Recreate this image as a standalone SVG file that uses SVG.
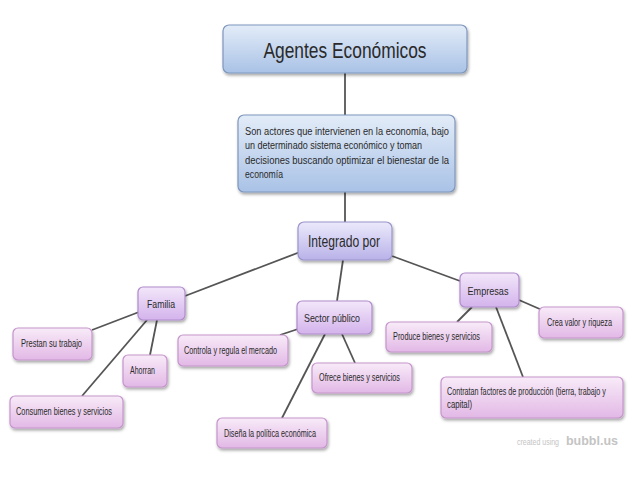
<svg xmlns="http://www.w3.org/2000/svg" width="638" height="479" viewBox="0 0 638 479">
<defs>
<linearGradient id="gBlue" x1="0" y1="0" x2="0" y2="1">
<stop offset="0" stop-color="#e3ecf8"/>
<stop offset="1" stop-color="#a9c2e6"/>
</linearGradient>
<linearGradient id="gLav" x1="0" y1="0" x2="0" y2="1">
<stop offset="0" stop-color="#ebe9fb"/>
<stop offset="1" stop-color="#b9b2e8"/>
</linearGradient>
<linearGradient id="gMid" x1="0" y1="0" x2="0" y2="1">
<stop offset="0" stop-color="#f3e7fa"/>
<stop offset="1" stop-color="#d3b3ec"/>
</linearGradient>
<linearGradient id="gLeaf" x1="0" y1="0" x2="0" y2="1">
<stop offset="0" stop-color="#f8ebf8"/>
<stop offset="1" stop-color="#e2b8e6"/>
</linearGradient>
<filter id="sh" x="-10%" y="-20%" width="130%" height="160%">
<feDropShadow dx="1" dy="2" stdDeviation="1.5" flood-color="#000" flood-opacity="0.35"/>
</filter>
</defs>
<style>
.blue{fill:url(#gBlue);stroke:#7f97bd;stroke-width:1.2;filter:url(#sh)}
.lav{fill:url(#gLav);stroke:#9a94cc;stroke-width:1.2;filter:url(#sh)}
.mid{fill:url(#gMid);stroke:#b08ccc;stroke-width:1.2;filter:url(#sh)}
.leaf{fill:url(#gLeaf);stroke:#c595cc;stroke-width:1.2;filter:url(#sh)}
text{font-family:"Liberation Sans",Arial,sans-serif;fill:#2a2a2a}
.t10{font-size:10px}
.t11{font-size:11px}
.c{text-anchor:middle}
.conn line{stroke:#555;stroke-width:1.8}
</style>
<rect width="638" height="479" fill="#fff"/>
<g id="connectors" class="conn">
<line x1="345" y1="73" x2="345" y2="115"/>
<line x1="345" y1="192" x2="345" y2="222"/>
<line x1="300" y1="252" x2="185" y2="296"/>
<line x1="343" y1="260" x2="337" y2="301"/>
<line x1="392" y1="256" x2="460" y2="281"/>
<line x1="139" y1="312" x2="92" y2="330"/>
<line x1="157" y1="320" x2="150" y2="355"/>
<line x1="147" y1="320" x2="82" y2="396"/>
<line x1="298" y1="329" x2="280" y2="335"/>
<line x1="325" y1="334" x2="282" y2="418"/>
<line x1="342" y1="334" x2="355" y2="363"/>
<line x1="472" y1="307" x2="457" y2="322"/>
<line x1="496" y1="307" x2="523" y2="377"/>
<line x1="519" y1="300" x2="542" y2="310"/>
</g>
<g id="agentes">
<rect class="blue" x="223" y="25" width="244" height="48" rx="6"/>
<text x="345" y="58" class="c" font-size="22" textLength="163" lengthAdjust="spacingAndGlyphs">Agentes Económicos</text>
</g>
<g id="definicion">
<rect class="blue" x="238" y="115" width="217" height="77" rx="6"/>
<text x="245" y="135" class="t10" textLength="204" lengthAdjust="spacingAndGlyphs">Son actores que intervienen en la economía, bajo</text>
<text x="245" y="149" class="t10" textLength="177" lengthAdjust="spacingAndGlyphs">un determinado sistema económico y toman</text>
<text x="245" y="164" class="t10" textLength="204" lengthAdjust="spacingAndGlyphs">decisiones buscando optimizar el bienestar de la</text>
<text x="245" y="178" class="t10" textLength="38" lengthAdjust="spacingAndGlyphs">economía</text>
</g>
<g id="integrado">
<rect class="lav" x="298" y="222" width="94" height="38" rx="6"/>
<text x="344" y="247" class="c" font-size="16" textLength="72" lengthAdjust="spacingAndGlyphs">Integrado por</text>
</g>
<g id="familia">
<rect class="mid" x="138" y="287" width="47" height="33" rx="5"/>
<text x="161" y="308" class="c t11" textLength="28" lengthAdjust="spacingAndGlyphs">Familia</text>
</g>
<g id="sector">
<rect class="mid" x="297" y="301" width="75" height="33" rx="5"/>
<text x="332" y="322" class="c t11" textLength="56" lengthAdjust="spacingAndGlyphs">Sector público</text>
</g>
<g id="empresas">
<rect class="mid" x="460" y="273" width="59" height="34" rx="5"/>
<text x="488" y="295" class="c t11" textLength="41" lengthAdjust="spacingAndGlyphs">Empresas</text>
</g>
<g id="prestan">
<rect class="leaf" x="13" y="328" width="79" height="32" rx="5"/>
<text x="51.5" y="347" class="c t10" textLength="61" lengthAdjust="spacingAndGlyphs">Prestan su trabajo</text>
</g>
<g id="ahorran">
<rect class="leaf" x="123" y="355" width="44" height="32" rx="5"/>
<text x="142.5" y="374" class="c t10" textLength="25" lengthAdjust="spacingAndGlyphs">Ahorran</text>
</g>
<g id="consumen">
<rect class="leaf" x="10" y="396" width="113" height="32" rx="5"/>
<text x="64" y="415" class="c t10" textLength="96" lengthAdjust="spacingAndGlyphs">Consumen bienes y servicios</text>
</g>
<g id="controla">
<rect class="leaf" x="178" y="335" width="110" height="31" rx="5"/>
<text x="230.5" y="354" class="c t10" textLength="93" lengthAdjust="spacingAndGlyphs">Controla y regula el mercado</text>
</g>
<g id="disena">
<rect class="leaf" x="217" y="418" width="110" height="30" rx="5"/>
<text x="270" y="437" class="c t10" textLength="92" lengthAdjust="spacingAndGlyphs">Diseña la política económica</text>
</g>
<g id="ofrece">
<rect class="leaf" x="312" y="363" width="100" height="30" rx="5"/>
<text x="359.5" y="381" class="c t10" textLength="81" lengthAdjust="spacingAndGlyphs">Ofrece bienes y servicios</text>
</g>
<g id="produce">
<rect class="leaf" x="386" y="322" width="106" height="30" rx="5"/>
<text x="436.5" y="340" class="c t10" textLength="87" lengthAdjust="spacingAndGlyphs">Produce bienes y servicios</text>
</g>
<g id="crea">
<rect class="leaf" x="539" y="307" width="84" height="31" rx="5"/>
<text x="579.5" y="326" class="c t10" textLength="65" lengthAdjust="spacingAndGlyphs">Crea valor y riqueza</text>
</g>
<g id="contratan">
<rect class="leaf" x="441" y="377" width="182" height="41" rx="5"/>
<text transform="translate(447 395) scale(0.7 1)" x="0" y="0" class="t10" textLength="227" lengthAdjust="spacingAndGlyphs">Contratan factores de producción (tierra, trabajo y</text>
<text x="447" y="408" class="t10" textLength="25" lengthAdjust="spacingAndGlyphs">capital)</text>
</g>
<g id="watermark">
<text x="517" y="445" font-size="9" style="fill:#c4c4c4" textLength="42" lengthAdjust="spacingAndGlyphs">created using</text>
<text x="566" y="445" font-size="12" font-weight="bold" style="fill:#c4c4c4" textLength="52" lengthAdjust="spacingAndGlyphs">bubbl.us</text>
</g>
</svg>
